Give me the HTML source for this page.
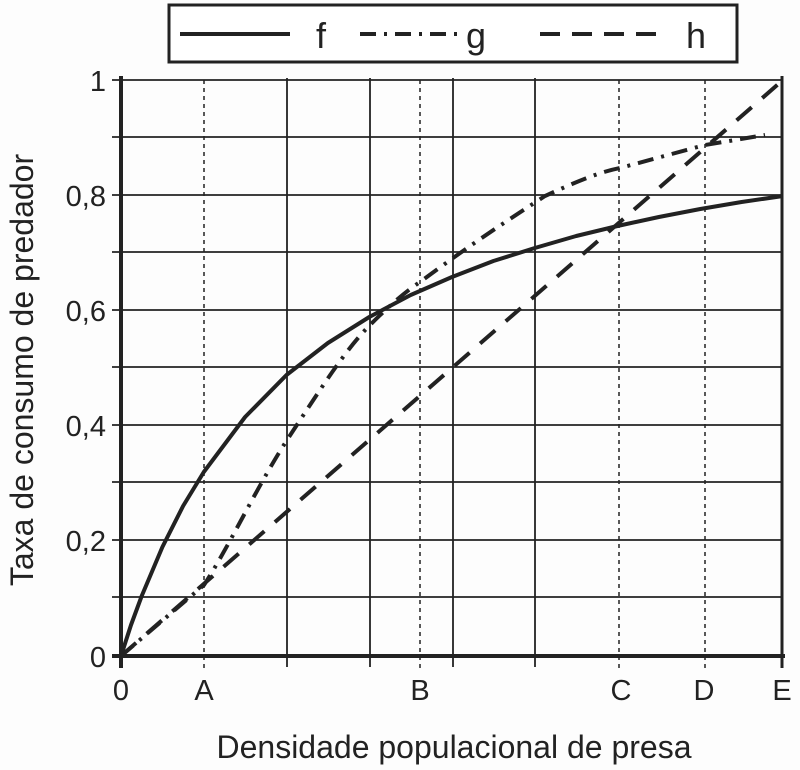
<!DOCTYPE html><html><head><style>body{margin:0;background:#fdfdfd}svg{display:block}text{font-family:"Liberation Sans",sans-serif;fill:#222}</style></head><body>
<svg width="800" height="770" viewBox="0 0 800 770">
<rect width="800" height="770" fill="#fdfdfd"/>
<rect x="169" y="5" width="568" height="57" fill="#fff" stroke="#222" stroke-width="3"/>
<line x1="180" y1="34" x2="290" y2="34" stroke="#222" stroke-width="4"/>
<text x="316" y="48" font-size="36">f</text>
<line x1="360" y1="34" x2="460" y2="34" stroke="#222" stroke-width="4" stroke-dasharray="16,8,3,8"/>
<text x="466" y="48" font-size="36">g</text>
<line x1="540" y1="34" x2="665" y2="34" stroke="#222" stroke-width="4" stroke-dasharray="20,12"/>
<text x="686" y="48" font-size="36">h</text>
<g stroke="#222" stroke-width="1.8">
<line x1="112" y1="80" x2="783" y2="80"/><line x1="112" y1="137" x2="783" y2="137"/><line x1="112" y1="195" x2="783" y2="195"/><line x1="112" y1="252" x2="783" y2="252"/><line x1="112" y1="310" x2="783" y2="310"/><line x1="112" y1="367" x2="783" y2="367"/><line x1="112" y1="425" x2="783" y2="425"/><line x1="112" y1="482" x2="783" y2="482"/><line x1="112" y1="540" x2="783" y2="540"/><line x1="112" y1="597" x2="783" y2="597"/>
<line x1="287" y1="78" x2="287" y2="667"/><line x1="370" y1="78" x2="370" y2="667"/><line x1="453" y1="78" x2="453" y2="667"/><line x1="535" y1="78" x2="535" y2="667"/>
</g>
<g stroke="#222" stroke-width="1.5" stroke-dasharray="4,4">
<line x1="204" y1="80" x2="204" y2="670"/><line x1="420" y1="80" x2="420" y2="670"/><line x1="619" y1="80" x2="619" y2="670"/><line x1="705" y1="80" x2="705" y2="670"/>
</g>
<line x1="121" y1="76" x2="121" y2="668" stroke="#222" stroke-width="4"/>
<line x1="782" y1="76" x2="782" y2="668" stroke="#222" stroke-width="3"/>
<line x1="112" y1="656" x2="785" y2="656" stroke="#222" stroke-width="4"/>
<polyline points="121,656 131,625 141.7,596 162.4,547 183.1,506 203.8,472 245.1,417 286.5,375 327.9,343 369.3,317 410.7,295 452,277 493.4,261 534.8,248 576.2,236 617.5,226 658.9,217 700.3,209 741.6,202 783,196" fill="none" stroke="#222" stroke-width="4" stroke-linejoin="round"/>
<path d="M121,656 L204,585 C230,545 255,490 287,440 C320,390 345,350 370,325 C390,305 405,292 420,282 C470,245 505,222 545,196 C580,180 600,172 620,168 L705,145 L765,135" fill="none" stroke="#222" stroke-width="4" stroke-dasharray="16,8,3,8"/>
<path d="M121,656 L783,80" fill="none" stroke="#222" stroke-width="4" stroke-dasharray="20,14"/>
<g font-size="29" text-anchor="end">
<text x="106" y="91">1</text><text x="106" y="206">0,8</text><text x="106" y="321">0,6</text><text x="106" y="436">0,4</text><text x="106" y="551">0,2</text><text x="106" y="667">0</text>
</g>
<g font-size="29" text-anchor="middle">
<text x="121" y="700">0</text><text x="204" y="700">A</text><text x="420" y="700">B</text><text x="621" y="700">C</text><text x="704" y="700">D</text><text x="782" y="700">E</text>
</g>
<g font-size="32" text-anchor="middle">
<text x="454" y="758">Densidade populacional de presa</text>
<text transform="translate(33,370) rotate(-90)">Taxa de consumo de predador</text>
</g>
</svg></body></html>
